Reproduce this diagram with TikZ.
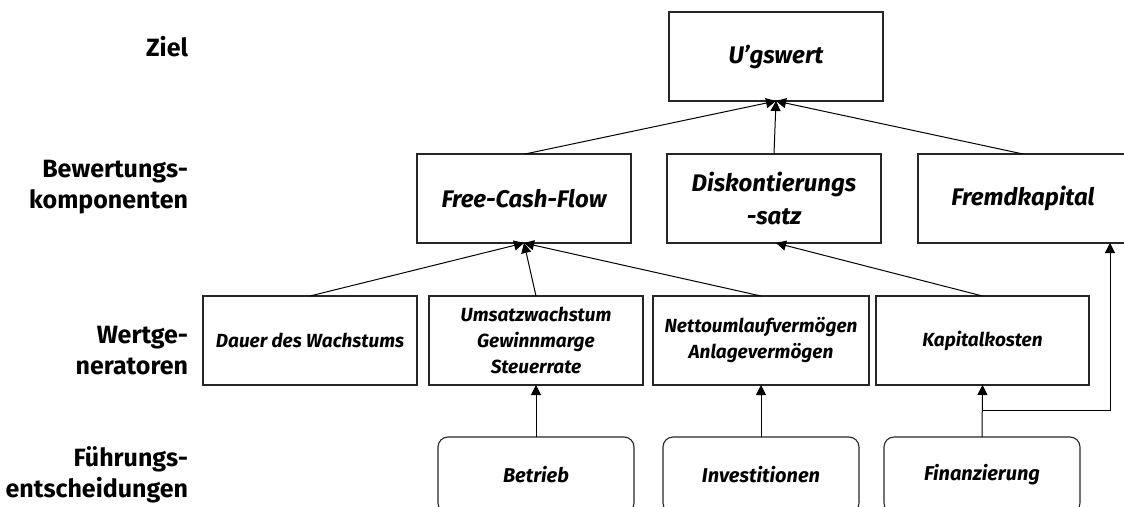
\documentclass[tikz,border=0pt]{standalone}
\usepackage{fontspec}
\setmainfont{Fira Sans}
\usetikzlibrary{arrows.meta}
\begin{document}
\begin{tikzpicture}[x=1pt,y=-1pt,
  every node/.style={inner sep=0pt, outer sep=0pt},
  levellabel/.style={anchor=east, align=right, font=\fontsize{25}{31}\selectfont\bfseries},
  bigbox/.style={draw=black!85, line width=1.1pt, minimum width=214pt, minimum height=89pt,
    align=center, font=\fontsize{24}{33}\selectfont\bfseries\itshape},
  genbox/.style={draw=black!85, line width=1.1pt, minimum width=214pt, minimum height=89pt,
    align=center, font=\fontsize{19}{26}\selectfont\bfseries\itshape},
  decbox/.style={draw=black!85, line width=1.1pt, rounded corners=10pt, minimum width=196pt,
    minimum height=76pt, align=center, font=\fontsize{20}{24}\selectfont\bfseries\itshape},
  link/.style={draw=black, line width=1pt},
  arr/.style={link, -{Triangle[length=10pt,width=10pt]}}
]
\useasboundingbox (0,0) rectangle (1124,506);

% level labels
\node[levellabel] (lz) at (188,47) {Ziel};
\node[levellabel] (lb) at (188,187) {Bewertungs-\\komponenten};
\node[levellabel] (lw) at (188,351) {Wertge-\\neratoren};
\node[levellabel] (lf) at (188,475) {Führungs-\\entscheidungen};

% goal
\node[bigbox] (uw) at (776,56.5) {U'gswert};

% valuation components
\node[bigbox] (fcf) at (524,198.5) {Free-Cash-Flow};
\node[bigbox] (dis) at (774,198.5) {Diskontierungs\\-satz};
\node[bigbox, minimum width=210pt] (fk) at (1023,198.5) {Fremdkapital};

% value drivers
\node[genbox] (dau) at (310,340.5) {Dauer des Wachstums};
\node[genbox] (ums) at (536,340.5) {Umsatzwachstum\\Gewinnmarge\\Steuerrate};
\node[genbox, minimum width=216pt] (net) at (761,340.5) {Nettoumlaufvermögen\\Anlagevermögen};
\node[genbox, minimum width=213pt] (kap) at (982.5,340.5) {Kapitalkosten};

% management decisions
\node[decbox] (bet) at (536,475) {Betrieb};
\node[decbox] (inv) at (761,475) {Investitionen};
\node[decbox] (fin) at (982,475) {Finanzierung};

% connectors
\draw[arr] (fcf.north) ++(1,0) coordinate (fcft) -- (uw.south);
\draw[arr] (dis.north) -- (uw.south);
\draw[arr] (fk.north) -- (uw.south);

\draw[arr] (dau.north) -- (fcf.south);
\draw[arr] (ums.north) -- (fcf.south);
\draw[arr] (net.north) -- (fcf.south);
\draw[arr] (kap.north) -- ([xshift=2pt]dis.south);

\draw[arr] (bet.north) -- (ums.south);
\draw[arr] (inv.north) -- (net.south);
\draw[arr] (fin.north) -- (kap.south);

\coordinate (j) at (982,410.7);
\coordinate (fkin) at (1110,243);
\draw[arr] (j) -| (fkin);
\end{tikzpicture}
\end{document}
